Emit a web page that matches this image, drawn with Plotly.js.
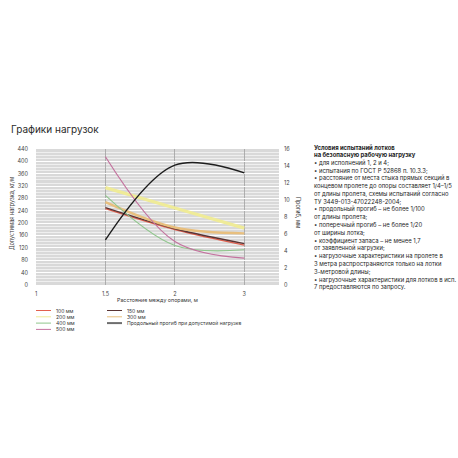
<!DOCTYPE html>
<html>
<head>
<meta charset="utf-8">
<script src="https://cdn.plot.ly/plotly-3.0.1.min.js"></script>
<style>html,body{margin:0;padding:0;background:#fff;}#chart{width:458px;height:458px;}</style>
</head>
<body>
<div id="chart"></div>
<script>
// ---- data ----
const categories = ['1', '1.5', '2', '3'];
const seriesX = ['1.5', '2', '3'];
const load100 = [247, 179, 129];
const load150 = [250, 182, 134];
const load200 = [315, 249, 184];
const load300 = [268, 186, 167];
const load400 = [290, 128, 114];
const load500 = [415, 141, 87];
const deflection = [5.3, 14.1, 13.2];
const seriesNames = ['100 мм', '150 мм', '200 мм', '300 мм', '400 мм', 'Продольный прогиб при допустимой нагрузке', '500 мм'];
const leftTicks = [0, 40, 80, 120, 160, 200, 240, 280, 320, 360, 400, 440];
const rightTicks = [0, 2, 4, 6, 8, 10, 12, 14, 16];
const noteLines = [
  'Условия испытаний лотков',
  'на безопасную рабочую нагрузку',
  '• для исполнений 1, 2 и 4;',
  '• испытания по ГОСТ Р 52868 п. 10.3.3;',
  '• расстояние от места стыка прямых секций в',
  'концевом пролете до опоры составляет 1/4–1/5',
  'от длины пролета, схемы испытаний согласно',
  'ТУ 3449-013-47022248-2004;',
  '• продольный прогиб – не более 1/100',
  'от длины пролета;',
  '• поперечный прогиб – не более 1/20',
  'от ширины лотка;',
  '• коэффициент запаса – не менее 1,7',
  'от заявленной нагрузки;',
  '• нагрузочные характеристики на пролете в',
  '3 метра распространяются только на лотки',
  '3-метровой длины;',
  '• нагрузочные характеристики для лотков в исп.',
  '7 предоставляются по запросу.'
];

// ---- styles ----
const FONT = 'Inter, "Noto Sans", sans-serif';
const L = 36, R = 279, T = 149, B = 285;
const px = x => (x - L) / (R - L);
const py = y => (B - y) / (B - T);

const styles = [
  {color: '#e2604e', width: 1.2, lw: 1},
  {color: '#5a3434', width: 1.3, lw: 1},
  {color: '#efeb98', width: 3.2, lw: 1},
  {color: '#e8bf7e', width: 2.4, lw: 1},
  {color: '#8fc68c', width: 1.1, lw: 1},
  {color: '#1e1e1e', width: 1.4, lw: 2, legendColor: '#6e6e6e'},
  {color: '#c4739f', width: 1.2, lw: 1}
];
const yData = [load100, load150, load200, load300, load400, deflection, load500];

const traces = yData.map((ys, i) => ({
  type: 'scatter', mode: 'lines',
  x: seriesX, y: ys, name: seriesNames[i],
  yaxis: i === 5 ? 'y2' : 'y',
  line: {color: styles[i].color, width: styles[i].width, shape: 'spline', smoothing: 1},
  showlegend: false, hoverinfo: 'skip'
}));

const annotations = [];
const shapes = [];

// title
annotations.push({xref: 'paper', yref: 'paper', x: px(9), y: py(129), xanchor: 'left', yanchor: 'middle',
  text: 'Графики нагрузок', showarrow: false, font: {family: FONT, size: 10, color: '#2b2b2b'}});
// axis titles
annotations.push({xref: 'paper', yref: 'paper', x: px(12), y: py(214), xanchor: 'center', yanchor: 'middle', textangle: -90,
  text: 'Допустимая нагрузка, кг/м', showarrow: false, font: {family: FONT, size: 5.5, color: '#333'}});
annotations.push({xref: 'paper', yref: 'paper', x: px(298), y: py(212), xanchor: 'center', yanchor: 'middle', textangle: 90,
  text: 'Прогиб, мм', showarrow: false, font: {family: FONT, size: 5.5, color: '#333'}});
annotations.push({xref: 'paper', yref: 'paper', x: 0.5, y: py(300), xanchor: 'center', yanchor: 'middle',
  text: 'Расстояние между опорами, м', showarrow: false, font: {family: FONT, size: 5.3, color: '#333'}});

// notes
noteLines.forEach((t, i) => {
  annotations.push({xref: 'paper', yref: 'paper', x: px(311.5), y: py(147 + i * 7.8), xanchor: 'left', yanchor: 'middle',
    text: i < 2 ? '<b>' + t + '</b>' : t, showarrow: false, font: {family: FONT, size: 5.9, color: '#1e1e1e'}});
});

// custom legend (2 columns, row-wise)
seriesNames.forEach((n, i) => {
  const col = i % 2, row = Math.floor(i / 2);
  const x0 = col === 0 ? 36 : 107;
  const yy = 310.5 + row * 6.3;
  shapes.push({type: 'line', xref: 'paper', yref: 'paper', x0: px(x0), x1: px(x0 + 15), y0: py(yy), y1: py(yy),
    line: {color: styles[i].legendColor || styles[i].color, width: styles[i].lw}});
  annotations.push({xref: 'paper', yref: 'paper', x: px(x0 + 18), y: py(yy), xanchor: 'left', yanchor: 'middle',
    text: n, showarrow: false, font: {family: FONT, size: 5, color: '#333'}});
});

const layout = {
  width: 458, height: 458,
  margin: {l: L, r: 458 - R, t: T, b: 458 - B, pad: 0},
  paper_bgcolor: '#ffffff', plot_bgcolor: '#d9d9d9',
  showlegend: false,
  xaxis: {type: 'category', categoryorder: 'array', categoryarray: categories, range: [0, 3.5],
    showgrid: true, gridcolor: '#a0a0a0', gridwidth: 0.8, zeroline: false, showline: false, ticks: '',
    tickfont: {family: FONT, size: 5.5, color: '#444'}, ticklabelstandoff: 4, fixedrange: true},
  yaxis: {range: [0, 440], tickvals: leftTicks, ticktext: leftTicks.map(String),
    showgrid: true, gridcolor: '#ffffff', gridwidth: 1, zeroline: false, showline: false, ticks: '',
    minor: {dtick: 10, showgrid: true, gridcolor: '#f4f4f4', gridwidth: 0.8},
    tickfont: {family: FONT, size: 5.5, color: '#444'}, ticklabelstandoff: 7, fixedrange: true},
  yaxis2: {range: [0, 16], tickvals: rightTicks, ticktext: rightTicks.map(String), overlaying: 'y', side: 'right',
    showgrid: false, zeroline: false, showline: false, ticks: '',
    tickfont: {family: FONT, size: 5.5, color: '#444'}, ticklabelstandoff: 4, fixedrange: true},
  annotations: annotations,
  shapes: shapes
};

Plotly.newPlot('chart', traces, layout, {displayModeBar: false, staticPlot: true});
</script>
</body>
</html>
